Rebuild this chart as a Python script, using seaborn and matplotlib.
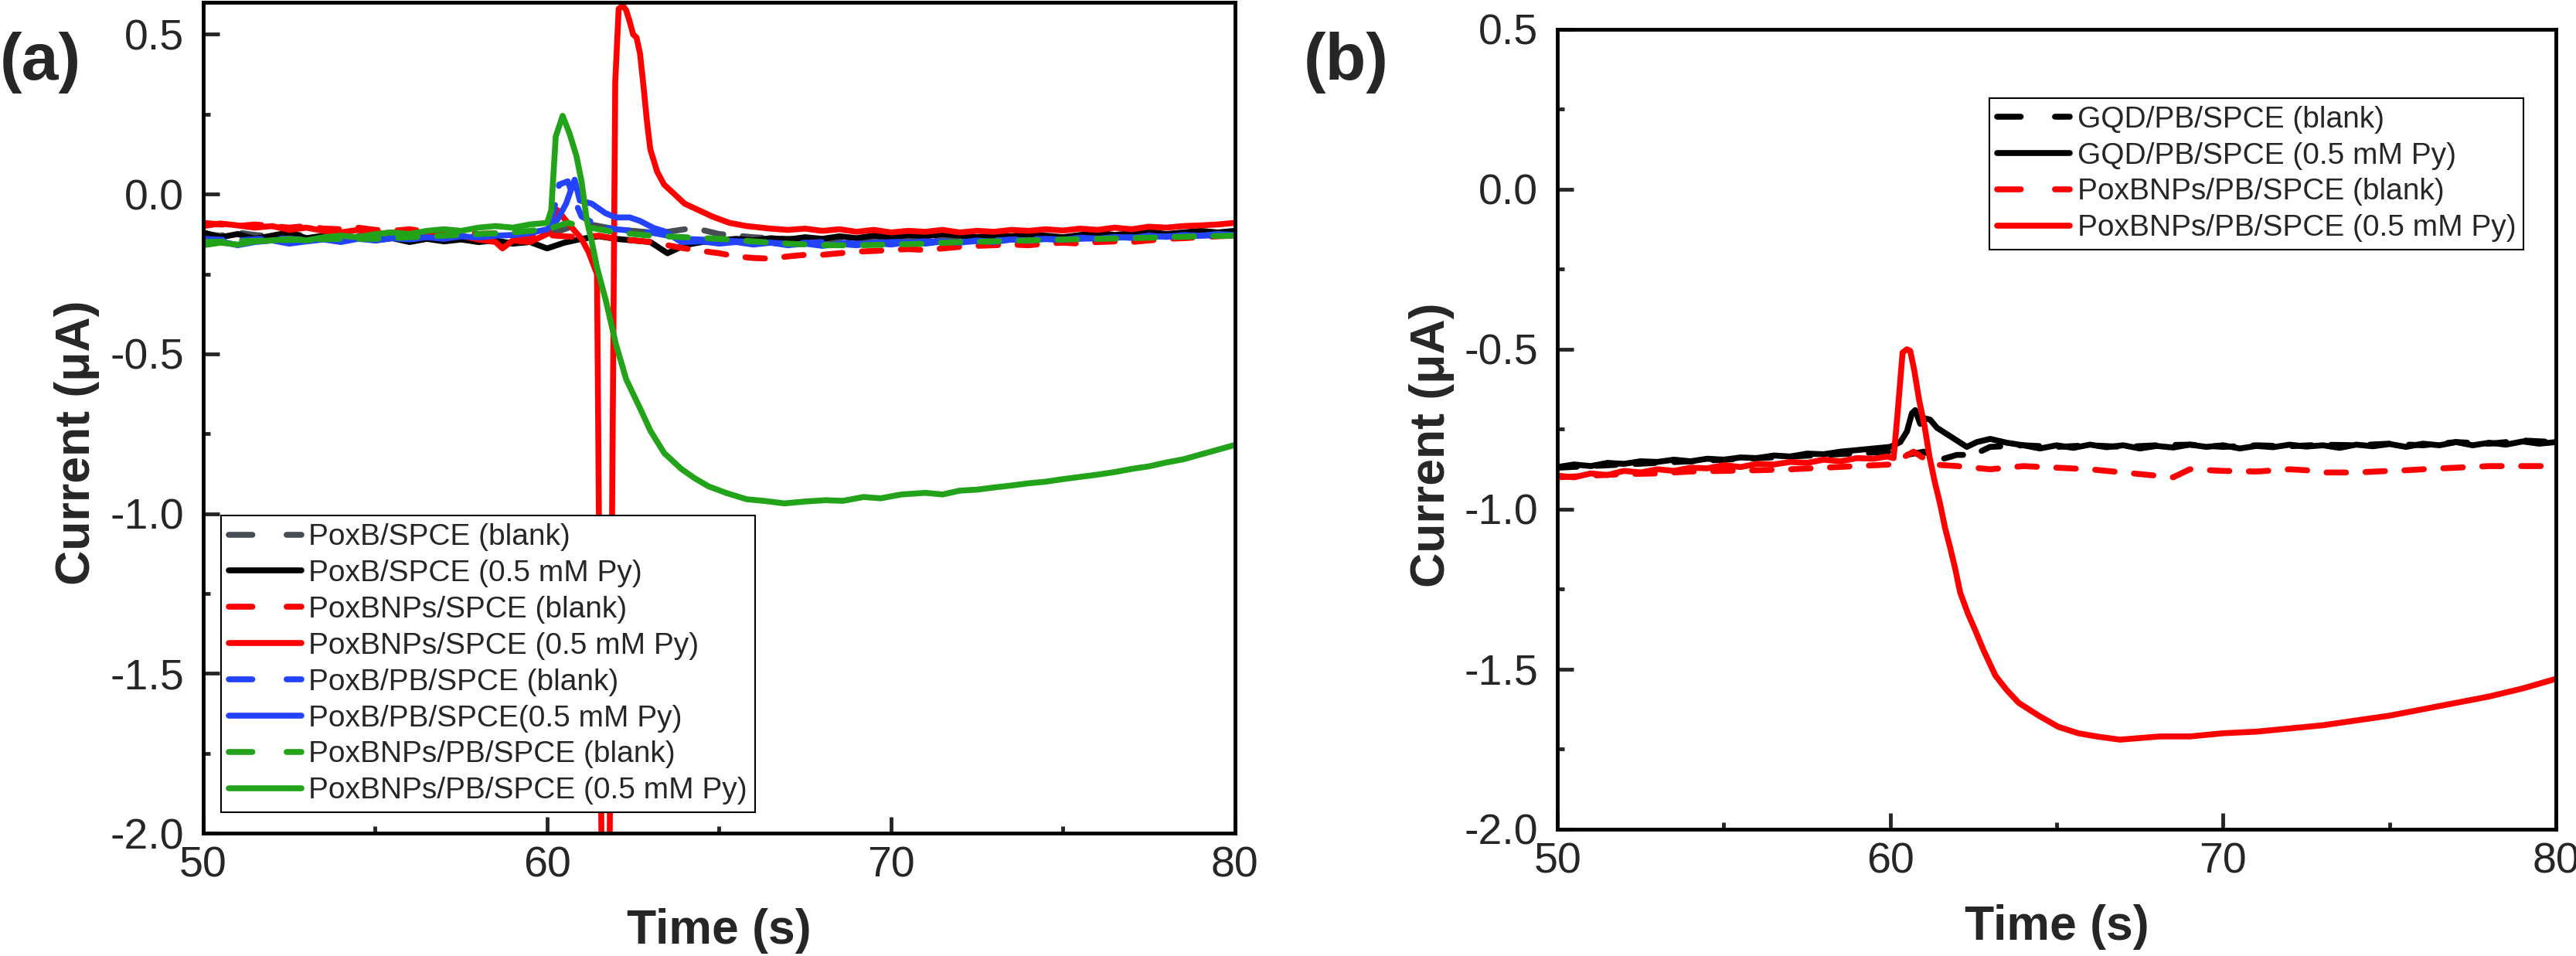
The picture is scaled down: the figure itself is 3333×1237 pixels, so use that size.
import numpy as np
import seaborn as sns
import matplotlib.pyplot as plt
from matplotlib.lines import Line2D
from matplotlib.ticker import MultipleLocator

sns.set_style('ticks')
plt.rcParams['font.family'] = ['Liberation Sans', 'DejaVu Sans']
plt.rcParams['axes.unicode_minus'] = False

# ---------------- panel (a) data ----------------
t_grid = np.arange(50, 80.01, 0.5)

a_gray_blank = [-0.125, -0.130, -0.120, -0.128, -0.132, -0.125, -0.130, -0.135, -0.128, -0.132,
                -0.138, -0.130, -0.135, -0.140, -0.132, -0.138, -0.135, -0.140, -0.130, -0.135,
                -0.128, -0.110, -0.090, -0.100, -0.110, -0.115, -0.120, -0.118, -0.110, -0.112,
                -0.125, -0.130, -0.135, -0.138, -0.140, -0.140, -0.142, -0.140, -0.138, -0.142,
                -0.140, -0.138, -0.140, -0.135, -0.138, -0.140, -0.136, -0.138, -0.135, -0.140,
                -0.145, -0.140, -0.135, -0.138, -0.133, -0.135, -0.130, -0.132, -0.128, -0.130,
                -0.125]

a_black_py = [-0.120, -0.135, -0.125, -0.140, -0.130, -0.120, -0.138, -0.130, -0.142, -0.135,
              -0.145, -0.138, -0.150, -0.140, -0.148, -0.142, -0.150, -0.145, -0.155, -0.150,
              -0.170, -0.152, -0.140, -0.132, -0.140, -0.145, -0.150, -0.185, -0.160, -0.150,
              -0.145, -0.140, -0.145, -0.138, -0.142, -0.135, -0.140, -0.132, -0.138, -0.130,
              -0.135, -0.128, -0.132, -0.125, -0.130, -0.135, -0.128, -0.132, -0.125, -0.130,
              -0.135, -0.128, -0.120, -0.128, -0.122, -0.118, -0.125, -0.120, -0.115, -0.120,
              -0.115]

a_red_blank = [-0.090, -0.095, -0.100, -0.095, -0.100, -0.105, -0.100, -0.108, -0.110, -0.105,
               -0.112, -0.115, -0.110, -0.118, -0.120, -0.118, -0.125, -0.122, -0.128, -0.130,
               -0.128, -0.132, -0.135, -0.130, -0.140, -0.145, -0.150, -0.160, -0.170, -0.178,
               -0.185, -0.195, -0.200, -0.202, -0.195, -0.190, -0.190, -0.185, -0.180, -0.178,
               -0.175, -0.172, -0.175, -0.170, -0.165, -0.162, -0.160, -0.158, -0.160, -0.155,
               -0.152, -0.155, -0.150, -0.148, -0.150, -0.145, -0.140, -0.138, -0.135, -0.132,
               -0.130]

a_red_py_t = [50, 50.5, 51, 51.5, 52, 52.5, 53, 53.5, 54, 54.5,
              55, 55.5, 56, 56.5, 57, 57.5, 58, 58.5, 58.7, 59, 59.5,
              60, 60.3, 60.6, 61.0, 61.2, 61.45, 61.6, 61.8, 61.98, 62.08,
              62.2, 62.3, 62.4, 62.5, 62.6, 62.7, 62.8, 62.9, 63.0, 63.2,
              63.4, 63.7, 64.0, 64.4, 64.8, 65.3, 65.8, 66.5, 67, 67.5,
              68, 68.5, 69, 69.5, 70, 70.5, 71, 71.5, 72, 72.5,
              73, 73.5, 74, 74.5, 75, 75.5, 76, 76.5, 77, 77.5,
              78, 78.5, 79, 79.5, 80]
a_red_py = [-0.100, -0.092, -0.098, -0.105, -0.100, -0.112, -0.105, -0.115, -0.120, -0.112,
            -0.125, -0.120, -0.130, -0.125, -0.135, -0.130, -0.142, -0.150, -0.170, -0.145, -0.150,
            -0.125, -0.050, -0.090, -0.140, -0.180, -0.250, -2.300, -2.300, 0.350, 0.580,
            0.590, 0.575, 0.540, 0.500, 0.490, 0.440, 0.340, 0.230, 0.140, 0.070,
            0.030, 0.000, -0.030, -0.050, -0.070, -0.090, -0.100, -0.108, -0.112, -0.108,
            -0.115, -0.110, -0.118, -0.112, -0.120, -0.115, -0.118, -0.112, -0.120, -0.115,
            -0.118, -0.112, -0.115, -0.110, -0.114, -0.108, -0.112, -0.105, -0.110, -0.102,
            -0.105, -0.100, -0.098, -0.095, -0.090]

a_blue_blank_t = [50, 51, 52, 53, 54, 55, 56, 57, 58, 59,
                  59.5, 60, 60.2, 60.35, 60.6, 60.8, 61, 61.5, 62, 62.5, 63,
                  64, 65, 66, 67, 68, 69, 70, 71, 72, 73, 74, 75, 76, 77, 78, 79, 80]
a_blue_blank = [-0.140, -0.145, -0.138, -0.142, -0.140, -0.136, -0.140, -0.135, -0.130, -0.128,
                -0.120, -0.110, -0.050, 0.030, 0.040, -0.020, -0.070, -0.100, -0.110, -0.115, -0.120,
                -0.140, -0.145, -0.150, -0.155, -0.150, -0.155, -0.150, -0.148, -0.150, -0.145,
                -0.140, -0.142, -0.138, -0.135, -0.132, -0.130, -0.128]

a_blue_py_t = [50, 50.5, 51, 51.5, 52, 52.5, 53, 53.5, 54, 54.5,
               55, 55.5, 56, 56.5, 57, 57.5, 58, 58.5, 59, 59.5,
               60.0, 60.3, 60.55, 60.8, 60.95, 61.3, 61.7, 62.0, 62.4, 62.7,
               63.1, 63.4, 63.9, 64.5, 65, 65.5, 66, 66.5, 67, 67.5,
               68, 68.5, 69, 69.5, 70, 70.5, 71, 71.5, 72, 72.5,
               73, 73.5, 74, 74.5, 75, 75.5, 76, 76.5, 77, 77.5,
               78, 78.5, 79, 79.5, 80]
a_blue_py = [-0.155, -0.148, -0.160, -0.150, -0.145, -0.155, -0.148, -0.142, -0.150, -0.140,
             -0.145, -0.138, -0.142, -0.135, -0.140, -0.132, -0.136, -0.130, -0.128, -0.122,
             -0.110, -0.080, -0.030, 0.045, -0.020, -0.030, -0.060, -0.073, -0.073, -0.084,
             -0.106, -0.116, -0.150, -0.148, -0.155, -0.150, -0.158, -0.152, -0.160, -0.155,
             -0.162, -0.156, -0.160, -0.152, -0.158, -0.150, -0.155, -0.148, -0.152, -0.145,
             -0.150, -0.142, -0.146, -0.140, -0.143, -0.136, -0.140, -0.134, -0.137, -0.130,
             -0.134, -0.128, -0.130, -0.125, -0.128]

a_green_blank_t = [50, 51, 52, 53, 54, 55, 56, 57, 58, 59, 60, 60.6,
                   61, 62, 63, 64, 65, 66, 67, 68, 69, 70,
                   71, 72, 73, 74, 75, 76, 77, 78, 79, 80]
a_green_blank = [-0.150, -0.148, -0.145, -0.142, -0.140, -0.140, -0.135, -0.130, -0.125, -0.120, -0.110, -0.090,
                 -0.100, -0.120, -0.130, -0.135, -0.140, -0.148, -0.155, -0.160, -0.160, -0.158,
                 -0.155, -0.150, -0.148, -0.145, -0.142, -0.140, -0.138, -0.135, -0.132, -0.130]

a_green_py_t = [50, 50.5, 51, 51.5, 52, 52.5, 53, 53.5, 54, 54.5,
                55, 55.5, 56, 56.5, 57, 57.5, 58, 58.5, 59, 59.5,
                60.0, 60.12, 60.25, 60.45, 60.65, 60.85, 61.0, 61.15, 61.3, 61.45,
                61.7, 62.0, 62.3, 62.7, 63.0, 63.4, 63.9, 64.3, 64.7, 65.2,
                65.8, 66.3, 66.9, 67.5, 68.1, 68.6, 69.2, 69.7, 70.3, 71,
                71.5, 72, 72.5, 73, 73.5, 74, 74.5, 75, 75.5, 76,
                76.5, 77, 77.5, 78, 78.5, 79, 79.5, 80]
a_green_py = [-0.160, -0.152, -0.158, -0.148, -0.145, -0.140, -0.145, -0.135, -0.130, -0.135,
              -0.125, -0.120, -0.125, -0.115, -0.110, -0.115, -0.105, -0.100, -0.105, -0.095,
              -0.090, -0.050, 0.180, 0.245, 0.190, 0.120, 0.040, -0.080, -0.150, -0.230,
              -0.330, -0.470, -0.580, -0.670, -0.740, -0.810, -0.860, -0.890, -0.915, -0.935,
              -0.955, -0.960, -0.968, -0.962, -0.958, -0.960, -0.948, -0.952, -0.940, -0.935,
              -0.940, -0.928, -0.925, -0.918, -0.912, -0.905, -0.900, -0.892, -0.885, -0.878,
              -0.870, -0.860, -0.852, -0.840, -0.830, -0.815, -0.800, -0.785]

# ---------------- panel (b) data ----------------
b_black_blank_t = [50, 51, 52, 53, 54, 55, 56, 57, 58, 59, 60,
                   60.5, 61, 61.5, 62, 62.5, 63,
                   64, 65, 66, 67, 68, 69, 70, 71, 72, 73, 74, 75, 76, 77, 78, 79, 80]
b_black_blank = [-0.870, -0.865, -0.860, -0.855, -0.850, -0.845, -0.840, -0.835, -0.830, -0.825, -0.820,
                 -0.830, -0.820, -0.845, -0.830, -0.830, -0.805,
                 -0.800, -0.805, -0.800, -0.805, -0.800, -0.798, -0.805, -0.800, -0.803, -0.798,
                 -0.800, -0.795, -0.800, -0.790, -0.795, -0.785, -0.790]

b_black_py_t = [50, 50.5, 51, 51.5, 52, 52.5, 53, 53.5, 54, 54.5,
                55, 55.5, 56, 56.5, 57, 57.5, 58, 58.5, 59, 59.5,
                60.0, 60.3, 60.5, 60.65, 60.75, 60.9, 61.05, 61.2, 61.4, 61.7,
                62.0, 62.3, 62.6, 63.0, 63.5, 64, 64.5, 65, 65.5, 66,
                66.5, 67, 67.5, 68, 68.5, 69, 69.5, 70, 70.5, 71,
                71.5, 72, 72.5, 73, 73.5, 74, 74.5, 75, 75.5, 76,
                76.5, 77, 77.5, 78, 78.5, 79, 79.5, 80]
b_black_py = [-0.868, -0.860, -0.865, -0.855, -0.858, -0.850, -0.852, -0.845, -0.850, -0.842,
              -0.845, -0.838, -0.840, -0.832, -0.835, -0.826, -0.828, -0.820, -0.815, -0.810,
              -0.805, -0.790, -0.757, -0.700, -0.690, -0.733, -0.716, -0.720, -0.745, -0.765,
              -0.785, -0.805, -0.790, -0.780, -0.792, -0.800, -0.810, -0.800, -0.808, -0.798,
              -0.806, -0.800, -0.810, -0.802, -0.807, -0.798, -0.805, -0.800, -0.810, -0.802,
              -0.806, -0.798, -0.804, -0.800, -0.808, -0.798, -0.803, -0.796, -0.805, -0.795,
              -0.800, -0.790, -0.800, -0.792, -0.798, -0.788, -0.795, -0.790]

b_red_blank_t = [50, 51, 52, 53, 54, 55, 56, 57, 58, 59, 60,
                 60.7, 61.3, 62, 63, 64, 65, 66, 67, 67.5, 68.5,
                 69, 70, 71, 72, 72.5, 73, 74, 75, 75.5, 76,
                 77, 78, 79, 80]
b_red_blank = [-0.900, -0.895, -0.890, -0.888, -0.882, -0.880, -0.878, -0.875, -0.870, -0.865, -0.860,
               -0.820, -0.860, -0.865, -0.875, -0.865, -0.870, -0.875, -0.885, -0.890, -0.900,
               -0.875, -0.880, -0.882, -0.875, -0.878, -0.885, -0.885, -0.880, -0.878, -0.875,
               -0.870, -0.865, -0.865, -0.865]

b_red_py_t = [50, 50.5, 51, 51.5, 52, 52.5, 53, 53.5, 54, 54.5,
              55, 55.5, 56, 56.5, 57, 57.5, 58, 58.5, 59, 59.5,
              59.9, 60.1, 60.22, 60.37, 60.5, 60.6, 60.72, 60.87, 61.03, 61.18,
              61.34, 61.49, 61.65, 61.8, 61.96, 62.1, 62.33, 62.56, 62.8, 63.16,
              63.5, 63.86, 64.46, 65.05, 65.65, 66.2, 66.9, 67.5, 68.1, 69,
              70, 71, 72, 73, 74, 75, 76, 77, 78, 79,
              80]
b_red_py = [-0.895, -0.900, -0.888, -0.893, -0.880, -0.885, -0.875, -0.880, -0.870, -0.872,
            -0.862, -0.868, -0.858, -0.860, -0.852, -0.855, -0.845, -0.850, -0.840, -0.842,
            -0.835, -0.840, -0.700, -0.510, -0.500, -0.505, -0.565, -0.660, -0.740, -0.837,
            -0.916, -0.980, -1.060, -1.120, -1.190, -1.260, -1.325, -1.380, -1.440, -1.520,
            -1.565, -1.605, -1.645, -1.680, -1.700, -1.710, -1.720, -1.715, -1.710, -1.710,
            -1.700, -1.695, -1.685, -1.675, -1.660, -1.645, -1.625, -1.605, -1.585, -1.560,
            -1.530]

RED = '#FF0000'
BLACK = '#000000'
GRAY = '#474D55'
BLUE = '#2443FF'
GREEN = '#22A31A'
LW = 5.5
DASH_PLOT = [3.3, 3.3]
DASH_LEG = [4.0, 5.8]

series_a = [
    ('PoxB/SPCE (blank)', t_grid, a_gray_blank, GRAY, True),
    ('PoxB/SPCE (0.5 mM Py)', t_grid, a_black_py, BLACK, False),
    ('PoxBNPs/SPCE (blank)', t_grid, a_red_blank, RED, True),
    ('PoxBNPs/SPCE (0.5 mM Py)', a_red_py_t, a_red_py, RED, False),
    ('PoxB/PB/SPCE (blank)', a_blue_blank_t, a_blue_blank, BLUE, True),
    ('PoxB/PB/SPCE(0.5 mM Py)', a_blue_py_t, a_blue_py, BLUE, False),
    ('PoxBNPs/PB/SPCE (blank)', a_green_blank_t, a_green_blank, GREEN, True),
    ('PoxBNPs/PB/SPCE (0.5 mM Py)', a_green_py_t, a_green_py, GREEN, False),
]
series_b = [
    ('GQD/PB/SPCE (blank)', b_black_blank_t, b_black_blank, BLACK, True),
    ('GQD/PB/SPCE (0.5 mM Py)', b_black_py_t, b_black_py, BLACK, False),
    ('PoxBNPs/PB/SPCE (blank)', b_red_blank_t, b_red_blank, RED, True),
    ('PoxBNPs/PB/SPCE (0.5 mM Py)', b_red_py_t, b_red_py, RED, False),
]


def draw_panel(ax, series, ymax):
    handles = []
    for label, t, v, color, dashed in series:
        sns.lineplot(x=list(t), y=v, ax=ax, color=color, linewidth=LW,
                     sort=False, estimator=None, legend=False)
        ln = ax.lines[-1]
        ln.set_solid_capstyle('round')
        ln.set_solid_joinstyle('round')
        if dashed:
            ln.set_dashes(DASH_PLOT)
            ln.set_dash_capstyle('round')
            h = Line2D([0], [0], color=color, lw=LW, dashes=DASH_LEG,
                       dash_capstyle='round')
        else:
            h = Line2D([0], [0], color=color, lw=LW, solid_capstyle='round')
        handles.append((h, label))

    ax.set_xlim(50, 80)
    ax.set_ylim(-2.0, ymax)
    ax.set_xticks([50, 60, 70, 80])
    ax.xaxis.set_minor_locator(MultipleLocator(5))
    ax.yaxis.set_major_locator(MultipleLocator(0.5))
    ax.yaxis.set_minor_locator(MultipleLocator(0.25))
    ax.tick_params(which='major', direction='in', length=15, width=3.5,
                   labelsize=40, top=False, right=False)
    ax.tick_params(axis='x', which='major', pad=12)
    ax.tick_params(axis='y', which='major', pad=18)
    ax.tick_params(which='minor', direction='in', length=6.5, width=3.5,
                   top=False, right=False)
    for sp in ax.spines.values():
        sp.set_visible(True)
        sp.set_linewidth(3.5)
        sp.set_color('black')
    ax.set_xlabel('Time (s)', fontsize=45, fontweight='bold')
    ax.set_ylabel('Current (μA)', fontsize=45, fontweight='bold')
    return handles


fig = plt.figure(figsize=(33.33, 12.37), dpi=100)
ax_a = fig.add_axes([0.0789, 0.1285, 0.4005, 0.8690])
ax_b = fig.add_axes([0.6046, 0.1326, 0.3876, 0.8367])

hand_a = draw_panel(ax_a, series_a, 0.6)
hand_b = draw_panel(ax_b, series_b, 0.5)

ax_a.xaxis.set_label_coords(0.5, -0.09)
ax_a.yaxis.set_label_coords(-0.10, 0.47)
ax_b.xaxis.set_label_coords(0.5, -0.094)
ax_b.yaxis.set_label_coords(-0.103, 0.48)

leg_kw = dict(fontsize=28, frameon=True, fancybox=False, edgecolor='black',
              framealpha=1, handlelength=2.42, handletextpad=0.25,
              labelspacing=0.28, borderpad=0.25, borderaxespad=0)
leg_a = ax_a.legend([h for h, _ in hand_a], [l for _, l in hand_a],
                    loc='lower left', bbox_to_anchor=(0.0172, 0.0251), **leg_kw)
leg_b = ax_b.legend([h for h, _ in hand_b], [l for _, l in hand_b],
                    loc='upper right', bbox_to_anchor=(0.9675, 0.914), **leg_kw)
for leg in (leg_a, leg_b):
    leg.get_frame().set_linewidth(1.5)

fig.text(0.0, 0.9345, '(a)', fontsize=62, fontweight='bold', ha='left', va='center')
fig.text(0.506, 0.9345, '(b)', fontsize=62, fontweight='bold', ha='left', va='center')

fig.savefig('out.png', dpi=100)
